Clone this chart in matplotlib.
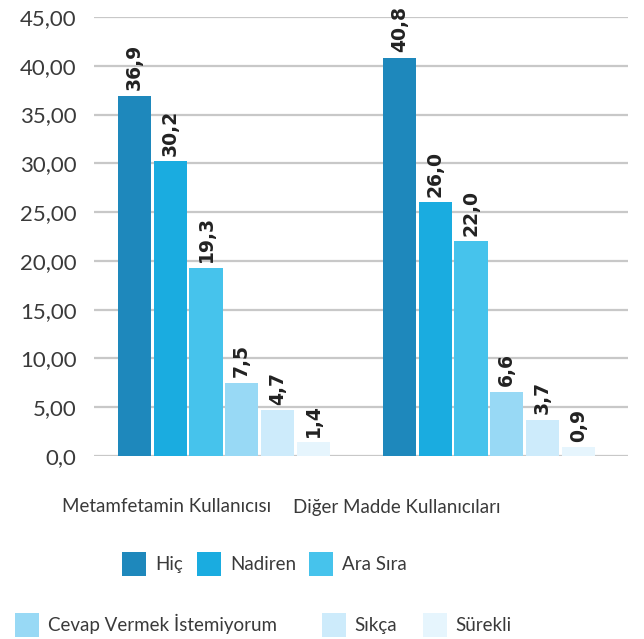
import matplotlib.pyplot as plt
import numpy as np

groups = ['Metamfetamin Kullanıcısı', 'Diğer Madde Kullanıcıları']
answers = ['Hiç', 'Nadiren', 'Ara Sıra', 'Cevap Vermek İstemiyorum', 'Sıkça', 'Sürekli']
metamfetamin = [36.9, 30.2, 19.3, 7.5, 4.7, 1.4]
diger = [40.8, 26.0, 22.0, 6.6, 3.7, 0.9]
yticks = [0, 5, 10, 15, 20, 25, 30, 35, 40, 45]
ytick_labels = ['0,0', '5,00', '10,00', '15,00', '20,00', '25,00', '30,00', '35,00', '40,00', '45,00']

colors = ['#1e88bc', '#1aace0', '#46c3ec', '#98d9f5', '#cdebfb', '#e6f5fd']
text_color = '#3a3a3a'

W, H = 644, 639
fig = plt.figure(figsize=(W / 100, H / 100), dpi=100)
ax = fig.add_axes([94 / W, 1 - 456 / H, (628 - 94) / W, (456 - 17) / H])

values = np.array([metamfetamin, diger]).T  # rows: answers
x = np.arange(len(groups))
step = 0.135
width = 0.125

bars = []
for i, ans in enumerate(answers):
    pos = x + (i - 2.5) * step
    b = ax.bar(pos, values[i], width=width, color=colors[i], label=ans, zorder=3)
    bars.append(b)
    for rect, v in zip(b, values[i]):
        ax.annotate(f'{v:.1f}'.replace('.', ','),
                    (rect.get_x() + rect.get_width() / 2, v),
                    xytext=(0, 4), textcoords='offset points',
                    rotation=90, ha='center', va='bottom',
                    fontsize=13.5, fontweight='bold', color='#222222',
                    family='DejaVu Sans')

ax.set_xlim(-0.49, 1.525)
ax.set_ylim(0, 45)
ax.set_yticks(yticks)
ax.set_yticklabels(ytick_labels, family='Lato', fontsize=16, color=text_color)
ax.tick_params(axis='y', length=0, pad=12.5)
ax.set_xticks([])
ax.yaxis.grid(True, color='#c8c8c8', linewidth=1.6, zorder=0)
ax.set_axisbelow(True)
for s in ax.spines.values():
    s.set_visible(False)

# category labels (sit left of the bar groups in the reference)
for name, cx in zip(groups, [167, 397]):
    fig.text(cx / W, 1 - 507 / H, name, ha='center', va='center',
             family='Lato', fontsize=13.5, color=text_color)

# legend entries, one per position
legend_pos = [(122, 564), (197, 564), (309, 564), (15, 625), (322, 625), (423, 625)]
for b, ans, (lx, ly) in zip(bars, answers, legend_pos):
    fig.legend(handles=[b], labels=[ans], loc='center left',
               bbox_to_anchor=(lx / W, 1 - ly / H), frameon=False,
               borderaxespad=0, borderpad=0, handlelength=1.3, handleheight=1.55,
               handletextpad=0.45, prop={'family': 'Lato', 'size': 13.5},
               labelcolor=text_color)

fig.savefig('out.png', dpi=100)
